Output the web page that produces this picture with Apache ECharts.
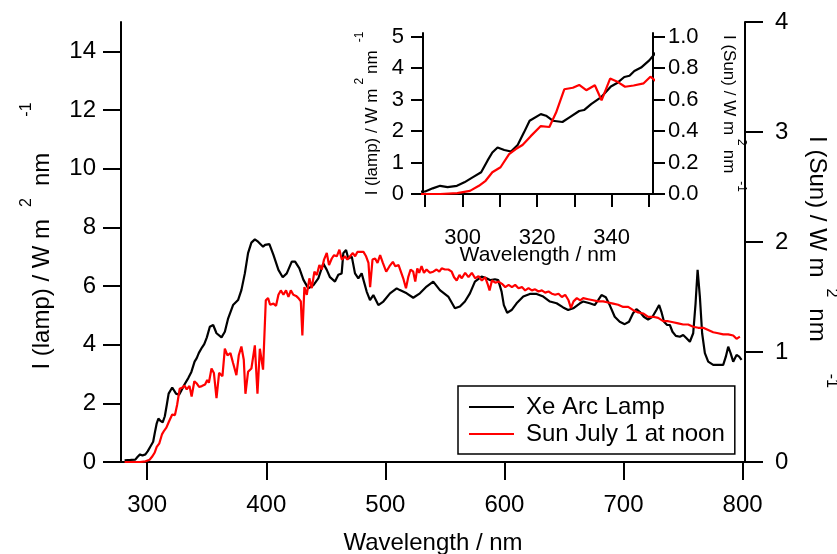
<!DOCTYPE html>
<html><head><meta charset="utf-8">
<script src="https://cdn.jsdelivr.net/npm/echarts@6/dist/echarts.min.js"></script>
<style>html,body{margin:0;padding:0;background:#fff}#c{width:837px;height:554px}</style>
</head><body><div id="c"></div>
<script>
// Xe arc lamp spectrum (left axis, W m^-2 nm^-1)
const lampNm = [281,286,290,292,294,296,298.5,300.5,302.7,305,306.7,308,309.4,311.2,313,314.8,316.5,318,321,322.4,324.2,326.8,328.6,331.3,332.6,334.5,337.1,339.8,341.6,343.4,344.8,346.1,347.9,350.1,
352.6,355.4,358.2,362.4,365.2,368,372.1,376.3,379.1,382,384.7,387.5,390.4,393.1,397.3,399,402.6,406,410.2,413.8,417.2,421.4,424.2,427.8,431.2,435.3,439.6,443.7,447.9,450.8,453.5,457.7,460.5,463.3,464.7,467,468.9,471.8,474.5,477.3,480.1,484.3,487.1,489.9,494.1,498.3,503.9,509.5,
512.2,517.9,523.4,529,534.6,540.2,545.8,552.8,558.4,562.6,566.8,571,575.2,580.8,585,588.3,592,594.8,597.6,599.5,602.3,606,610.2,615.8,621.3,627,632.6,638.2,643.8,649.3,653.5,657.8,663.4,
666.1,671.6,675.8,678.7,681.5,685.1,688.4,692.6,696.8,701,704.6,708,710.8,713.6,717,720.6,724.3,727.6,729.9,731.8,734,736.6,738.9,741.1,743.9,747.3,750.1,752.9,755.7,758.5,760.5,762.2,764.1,766,768.3,771.1,775.3,779.5,783.7,785.9,787.9,789.9,792.1,794.9,797.1,799.1];
const lampVal = [0.06,0.07,0.08,0.18,0.26,0.22,0.26,0.37,0.53,0.69,1.06,1.32,1.48,1.40,1.35,1.56,1.96,2.33,2.54,2.49,2.33,2.29,2.43,2.64,2.67,2.86,3.07,3.42,3.54,3.72,3.76,3.91,4.02,4.25,
4.61,4.67,4.39,4.25,4.44,4.90,5.35,5.52,5.86,6.43,7.12,7.48,7.59,7.51,7.34,7.40,7.43,7.06,6.55,6.30,6.43,6.83,6.83,6.60,6.21,5.92,6.03,6.26,6.77,6.55,6.30,6.15,6.38,6.43,7.12,7.23,6.94,7.00,6.43,6.26,6.43,5.81,5.52,5.69,5.35,5.47,5.75,5.92,
5.86,5.75,5.60,5.75,5.98,6.15,5.86,5.64,5.24,5.30,5.47,5.75,6.15,6.32,6.26,6.20,6.23,6.20,5.81,5.35,5.09,5.18,5.41,5.64,5.73,5.73,5.64,5.47,5.41,5.27,5.18,5.24,5.41,
5.47,5.41,5.35,5.52,5.69,5.62,5.35,4.95,4.78,4.70,4.78,5.07,5.21,5.12,4.95,4.86,4.95,5.18,5.35,5.12,4.78,4.67,4.67,4.44,4.30,4.27,4.33,4.22,4.10,4.39,5.41,6.55,5.64,4.39,3.71,3.42,3.31,3.31,3.31,3.59,3.93,3.71,3.42,3.65,3.59,3.48];

// Solar spectrum, July 1 at noon (right axis, W m^-2 nm^-1)
const sunNm = [281,286,290,294,298.6,302,304.4,306.2,308,310.2,312.5,314.3,316.1,318.3,321,323.3,325.1,327.3,329.6,331.3,333.2,335.5,337.3,339.6,341.4,343.6,345.9,348.6,350.4,
351.8,354,356,358.2,360.4,363.2,365.2,367.4,369.9,372.1,374.9,376.9,379.1,381.1,382.5,384.7,387.5,390.4,392.6,394.6,397.3,399.6,401.5,
403.2,406,408.2,410.2,412.2,414.4,416.6,418.6,420.6,422.7,425,427,429,430.3,432,434,436.2,438.2,440.4,442.4,444.6,446.6,448.5,450.8,452.7,455,456.9,459.2,461.4,463.4,466.2,468.1,470.4,472.7,474.6,476.5,478.8,481.6,483.8,485.8,487.2,489.2,491.4,493.4,495.6,497.9,500.7,503.5,506.3,508.3,511.1,
515,517.3,519.2,521.2,523.4,525.1,526.8,528.4,530.4,532.4,534.6,537.4,540.2,543,545.3,547.3,550.1,552.9,555.7,557.7,559.9,562.2,564.2,567,569.8,572.6,575.4,578.2,581,583.8,585.8,587.5,589.5,592.3,595.1,597.9,600.7,603.5,606.3,609,611.8,614.7,617.4,620.2,623,625.8,628.6,631.4,634.2,637,639.8,642.6,645.4,648.2,651,653.8,655.8,658,660.8,663.6,
666.1,670.3,674.5,678.7,682.9,687.1,691.3,695.5,699.7,703.9,708.1,712.3,716.5,720.7,724.9,729.1,733.3,737.5,741.7,745.9,750.1,754.3,758.5,762.7,766.9,771.1,775.3,779.5,783.7,787.9,792.1,794.9,797.7];
const sunVal = [0,0,0,0,0.006,0.02,0.052,0.084,0.138,0.17,0.254,0.286,0.312,0.368,0.432,0.426,0.518,0.666,0.676,0.694,0.66,0.692,0.596,0.734,0.716,0.682,0.69,0.704,0.746,
0.72,0.85,0.81,0.58,0.81,0.78,1.03,0.97,0.99,0.90,0.79,0.97,1.05,0.93,0.62,0.82,0.85,1.06,0.62,1.03,0.84,1.47,1.49,
1.43,1.44,1.42,1.52,1.56,1.52,1.56,1.50,1.56,1.52,1.51,1.49,1.46,1.15,1.59,1.52,1.67,1.58,1.73,1.70,1.79,1.75,1.84,1.90,1.79,1.85,1.88,1.87,1.93,1.84,1.87,1.84,1.87,1.90,1.87,1.91,1.91,1.91,1.87,1.81,1.59,1.84,1.85,1.81,1.88,1.81,1.73,1.78,1.82,1.78,1.79,
1.67,1.58,1.68,1.75,1.73,1.64,1.76,1.72,1.78,1.72,1.75,1.72,1.73,1.75,1.73,1.76,1.75,1.75,1.73,1.68,1.65,1.70,1.67,1.72,1.68,1.72,1.67,1.69,1.65,1.68,1.62,1.56,1.65,1.63,1.64,1.62,1.59,1.61,1.59,1.61,1.58,1.59,1.56,1.58,1.56,1.57,1.55,1.56,1.54,1.55,1.53,1.52,1.53,1.50,1.52,1.47,1.40,1.46,1.49,1.47,
1.49,1.48,1.47,1.46,1.46,1.45,1.44,1.43,1.41,1.41,1.38,1.36,1.35,1.32,1.32,1.31,1.28,1.28,1.27,1.26,1.25,1.25,1.23,1.22,1.22,1.20,1.18,1.17,1.16,1.16,1.15,1.12,1.14];

const mainXTicks = [300,400,500,600,700,800];
const lampTicks = [0,2,4,6,8,10,12,14];
const sunTicks = [0,1,2,3,4];
const insetXTicks = [290,300,310,320,330,340,350];
const insetXLabels = [300,320,340];
const insetLampTicks = [0,1,2,3,4,5];
const insetSunTicks = [0,0.2,0.4,0.6,0.8,1.0];

const FONT = 'Liberation Sans, Arial, Helvetica, sans-serif';
const pairs = (xs, ys) => xs.map((x, i) => [x, ys[i]]);
const inRange = (d) => d.filter(p => p[0] >= 286 && p[0] <= 354);
const lampData = pairs(lampNm, lampVal);
const sunData = pairs(sunNm, sunVal);

const line = { lineStyle: { color: '#000', width: 2 } };
// start: padding before the first token (shifts the centred title along the axis)
function richName(fs, ss, up, gap, gapB, start) {
  return {
    h: { fontSize: fs, fontFamily: FONT, color: '#000', lineHeight: fs, padding: [0, 0, 0, start] },
    m: { fontSize: fs, fontFamily: FONT, color: '#000', lineHeight: fs },
    a: { fontSize: ss, fontFamily: FONT, color: '#000', lineHeight: ss, padding: [0, gap, up, gap] },
    b: { fontSize: ss, fontFamily: FONT, color: '#000', lineHeight: ss, padding: [0, 0, up, gapB] }
  };
}
const NAME_LAMP = '{h|I (lamp) / W m}{a|2}{m|nm}{b|-1}';
const NAME_SUN = '{h|I (Sun) / W m}{a|2}{m|nm}{b|-1}';

const option = {
  animation: false,
  backgroundColor: '#fff',
  grid: [
    { left: 121, top: 22, width: 624, height: 440, outerBoundsMode: 'none', containLabel: false },
    { left: 423, top: 33, width: 230, height: 161, outerBoundsMode: 'none', containLabel: false,
      show: true, backgroundColor: '#fff', borderWidth: 0 }
  ],
  legend: {
    data: ['Xe Arc Lamp', 'Sun July 1 at noon'],
    orient: 'vertical', left: 458, top: 386, selectedMode: false,
    backgroundColor: '#fff', borderColor: '#000', borderWidth: 1.5, borderRadius: 0,
    padding: [9, 10, 8, 10], itemWidth: 45, itemHeight: 14, itemGap: 3,
    itemStyle: { opacity: 0 },
    lineStyle: { width: 2 },
    textStyle: { fontSize: 24, fontFamily: FONT, color: '#000', lineHeight: 24, padding: [0, 0, 0, 7] }
  },
  xAxis: [
    { type: 'value', gridIndex: 0, min: 278, max: 802, position: 'bottom',
      axisLine: line, splitLine: { show: false },
      axisTick: { length: 18, lineStyle: { color: '#000', width: 2 }, customValues: mainXTicks },
      axisLabel: { customValues: mainXTicks, fontSize: 24, fontFamily: FONT, color: '#000', margin: 31 },
      name: 'Wavelength / nm', nameLocation: 'middle', nameGap: 69, nameMoveOverlap: false,
      nameTextStyle: { fontSize: 24, fontFamily: FONT, color: '#000' } },
    { type: 'value', gridIndex: 0, min: 278, max: 802, position: 'top', axisLine: line,
      axisTick: { show: false }, axisLabel: { show: false }, splitLine: { show: false } },
    { type: 'value', gridIndex: 1, min: 289.4, max: 351.1, position: 'bottom', offset: 5,
      axisLine: line, splitLine: { show: false },
      axisTick: { length: 13, lineStyle: { color: '#000', width: 2 }, customValues: insetXTicks },
      axisLabel: { customValues: insetXLabels, fontSize: 22, fontFamily: FONT, color: '#000', margin: 28 },
      name: 'Wavelength / nm', nameLocation: 'middle', nameGap: 46, nameMoveOverlap: false,
      nameTextStyle: { fontSize: 21, fontFamily: FONT, color: '#000' } },
    { type: 'value', gridIndex: 1, min: 289.4, max: 351.1, position: 'top', axisLine: line,
      axisTick: { show: false }, axisLabel: { show: false }, splitLine: { show: false } }
  ],
  yAxis: [
    { type: 'value', gridIndex: 0, min: 0, max: 15, position: 'left',
      axisLine: line, splitLine: { show: false },
      axisTick: { length: 18, lineStyle: { color: '#000', width: 2 }, customValues: lampTicks },
      axisLabel: { customValues: lampTicks, fontSize: 24, fontFamily: FONT, color: '#000', margin: 25 },
      name: NAME_LAMP, nameLocation: 'middle', nameGap: 67, nameMoveOverlap: false,
      nameTextStyle: { rich: richName(24, 16, 30, 12, 36, 12) } },
    { type: 'value', gridIndex: 0, min: 0, max: 4, position: 'right',
      axisLine: line, splitLine: { show: false },
      axisTick: { length: 18, lineStyle: { color: '#000', width: 2 }, customValues: sunTicks },
      axisLabel: { customValues: sunTicks, fontSize: 24, fontFamily: FONT, color: '#000', margin: 30 },
      name: NAME_SUN, nameLocation: 'middle', nameGap: 60, nameRotate: -90, nameMoveOverlap: false,
      nameTextStyle: { rich: richName(24, 16, 28, 11, 32, 40) } },
    { type: 'value', gridIndex: 1, min: 0, max: 5.12, position: 'left',
      axisLine: line, splitLine: { show: false },
      axisTick: { length: 12, lineStyle: { color: '#000', width: 2 }, customValues: insetLampTicks },
      axisLabel: { customValues: insetLampTicks, fontSize: 22, fontFamily: FONT, color: '#000', margin: 19 },
      name: NAME_LAMP, nameLocation: 'middle', nameGap: 42, nameMoveOverlap: false,
      nameTextStyle: { rich: richName(17, 12, 26, 4, 8, 0) } },
    { type: 'value', gridIndex: 1, min: 0, max: 1.024, position: 'right',
      axisLine: line, splitLine: { show: false },
      axisTick: { length: 12, lineStyle: { color: '#000', width: 2 }, customValues: insetSunTicks },
      axisLabel: { customValues: insetSunTicks, fontSize: 22, fontFamily: FONT, color: '#000', margin: 15,
        formatter: v => Number(v).toFixed(1) },
      name: NAME_SUN, nameLocation: 'middle', nameGap: 67, nameRotate: -90, nameMoveOverlap: false,
      nameTextStyle: { rich: richName(17, 12, 26, 4, 8, 0) } }
  ],
  series: [
    { name: 'Xe Arc Lamp', type: 'line', xAxisIndex: 0, yAxisIndex: 0, data: lampData,
      symbol: 'none', lineStyle: { color: '#000', width: 2.2 }, itemStyle: { color: '#000' } },
    { name: 'Sun July 1 at noon', type: 'line', xAxisIndex: 0, yAxisIndex: 1, data: sunData,
      symbol: 'none', lineStyle: { color: '#ff0000', width: 2.2 }, itemStyle: { color: '#ff0000' } },
    { name: 'inset lamp', type: 'line', xAxisIndex: 2, yAxisIndex: 2, data: inRange(lampData),
      symbol: 'none', lineStyle: { color: '#000', width: 2.2 }, itemStyle: { color: '#000' }, z: 5 },
    { name: 'inset sun', type: 'line', xAxisIndex: 2, yAxisIndex: 3, data: inRange(sunData),
      symbol: 'none', lineStyle: { color: '#ff0000', width: 2.2 }, itemStyle: { color: '#ff0000' }, z: 5 }
  ]
};
const chart = echarts.init(document.getElementById('c'), null, { renderer: 'canvas' });
chart.setOption(option);
</script>
</body></html>
